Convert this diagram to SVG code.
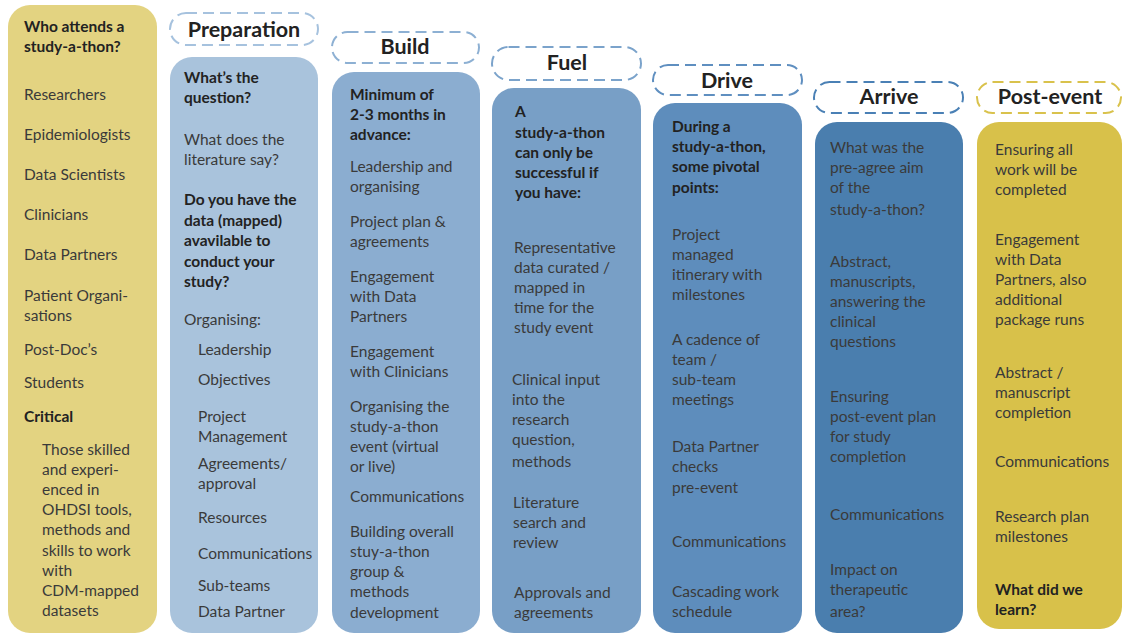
<svg xmlns="http://www.w3.org/2000/svg" width="1122" height="636" viewBox="0 0 1122 636">
<style>
text{font-family:Lato,"Open Sans","Liberation Sans",sans-serif;font-size:15.5px;fill:#3a3a3a}
.b{font-weight:bold;fill:#222}
.h{font-weight:bold;font-size:21.5px;fill:#222;text-anchor:middle}
.pill{fill:#fff;stroke-width:2;stroke-dasharray:11 6}
</style>
<rect width="1122" height="636" fill="#fff"/>
<g id="who">
<rect x="8" y="5" width="149" height="628" rx="22" fill="#E3D381"/>
<text class="b" x="24" y="32">Who attends a</text>
<text class="b" x="24" y="52">study-a-thon?</text>
<text x="24" y="100">Researchers</text>
<text x="24" y="140">Epidemiologists</text>
<text x="24" y="180">Data Scientists</text>
<text x="24" y="220">Clinicians</text>
<text x="24" y="260">Data Partners</text>
<text x="24" y="301">Patient Organi-</text>
<text x="24" y="321">sations</text>
<text x="24" y="355">Post-Doc’s</text>
<text x="24" y="388">Students</text>
<text class="b" x="24" y="422">Critical</text>
<text x="42" y="455">Those skilled</text>
<text x="42" y="475">and experi-</text>
<text x="42" y="495">enced in</text>
<text x="42" y="515">OHDSI tools,</text>
<text x="42" y="535">methods and</text>
<text x="42" y="556">skills to work</text>
<text x="42" y="576">with</text>
<text x="42" y="596">CDM-mapped</text>
<text x="42" y="616">datasets</text>
</g>
<g id="preparation">
<rect class="pill" x="170" y="13" width="148" height="32" rx="16" stroke="#A6C2DE"/>
<text class="h" x="244" y="37">Preparation</text>
<rect x="170" y="57" width="148" height="576" rx="22" fill="#A9C3DC"/>
<text class="b" x="184" y="83">What’s the</text>
<text class="b" x="184" y="103">question?</text>
<text x="184" y="145">What does the</text>
<text x="184" y="165">literature say?</text>
<text class="b" x="184" y="205">Do you have the</text>
<text class="b" x="184" y="226">data (mapped)</text>
<text class="b" x="184" y="246">avavilable to</text>
<text class="b" x="184" y="267">conduct your</text>
<text class="b" x="184" y="287">study?</text>
<text x="184" y="325">Organising:</text>
<text x="198" y="355">Leadership</text>
<text x="198" y="385">Objectives</text>
<text x="198" y="422">Project</text>
<text x="198" y="442">Management</text>
<text x="198" y="469">Agreements/</text>
<text x="198" y="489">approval</text>
<text x="198" y="523">Resources</text>
<text x="198" y="559">Communications</text>
<text x="198" y="591">Sub-teams</text>
<text x="198" y="617">Data Partner</text>
</g>
<g id="build">
<rect class="pill" x="332" y="32" width="147" height="31" rx="15.5" stroke="#8DB0D3"/>
<text class="h" x="405" y="54">Build</text>
<rect x="332" y="72" width="148" height="561" rx="22" fill="#8BADD0"/>
<text class="b" x="350" y="100">Minimum of</text>
<text class="b" x="350" y="120">2-3 months in</text>
<text class="b" x="350" y="140">advance:</text>
<text x="350" y="172">Leadership and</text>
<text x="350" y="192">organising</text>
<text x="350" y="227">Project plan &amp;</text>
<text x="350" y="247">agreements</text>
<text x="350" y="282">Engagement</text>
<text x="350" y="302">with Data</text>
<text x="350" y="322">Partners</text>
<text x="350" y="357">Engagement</text>
<text x="350" y="377">with Clinicians</text>
<text x="350" y="412">Organising the</text>
<text x="350" y="432">study-a-thon</text>
<text x="350" y="452">event (virtual</text>
<text x="350" y="472">or live)</text>
<text x="350" y="502">Communications</text>
<text x="350" y="537">Building overall</text>
<text x="350" y="557">stuy-a-thon</text>
<text x="350" y="577">group &amp;</text>
<text x="350" y="597">methods</text>
<text x="350" y="618">development</text>
</g>
<g id="fuel">
<rect class="pill" x="492" y="47" width="149" height="33" rx="16.5" stroke="#7BA3CB"/>
<text class="h" x="567" y="70">Fuel</text>
<rect x="492" y="88" width="149" height="545" rx="22" fill="#789FC6"/>
<text class="b" x="515" y="117">A</text>
<text class="b" x="515" y="138">study-a-thon</text>
<text class="b" x="515" y="158">can only be</text>
<text class="b" x="515" y="178">successful if</text>
<text class="b" x="515" y="198">you have:</text>
<text x="514" y="253">Representative</text>
<text x="514" y="273">data curated /</text>
<text x="514" y="293">mapped in</text>
<text x="514" y="313">time for the</text>
<text x="514" y="333">study event</text>
<text x="512" y="385">Clinical input</text>
<text x="512" y="405">into the</text>
<text x="512" y="425">research</text>
<text x="512" y="445">question,</text>
<text x="512" y="467">methods</text>
<text x="513" y="508">Literature</text>
<text x="513" y="528">search and</text>
<text x="513" y="548">review</text>
<text x="514" y="598">Approvals and</text>
<text x="514" y="618">agreements</text>
</g>
<g id="drive">
<rect class="pill" x="653" y="65" width="149" height="30" rx="15" stroke="#5F8FC0"/>
<text class="h" x="727" y="88">Drive</text>
<rect x="653" y="103" width="149" height="530" rx="22" fill="#5E8DBC"/>
<text class="b" x="672" y="132">During a</text>
<text class="b" x="672" y="152">study-a-thon,</text>
<text class="b" x="672" y="172">some pivotal</text>
<text class="b" x="672" y="193">points:</text>
<text x="672" y="240">Project</text>
<text x="672" y="260">managed</text>
<text x="672" y="280">itinerary with</text>
<text x="672" y="300">milestones</text>
<text x="672" y="345">A cadence of</text>
<text x="672" y="365">team /</text>
<text x="672" y="385">sub-team</text>
<text x="672" y="405">meetings</text>
<text x="672" y="452">Data Partner</text>
<text x="672" y="472">checks</text>
<text x="672" y="493">pre-event</text>
<text x="672" y="547">Communications</text>
<text x="672" y="597">Cascading work</text>
<text x="672" y="617">schedule</text>
</g>
<g id="arrive">
<rect class="pill" x="814" y="82" width="149" height="31" rx="15.5" stroke="#4A80B5"/>
<text class="h" x="889" y="104">Arrive</text>
<rect x="815" y="122" width="148" height="511" rx="22" fill="#4A7EAE"/>
<text x="830" y="153">What was the</text>
<text x="830" y="173">pre-agree aim</text>
<text x="830" y="193">of the</text>
<text x="830" y="215">study-a-thon?</text>
<text x="830" y="267">Abstract,</text>
<text x="830" y="287">manuscripts,</text>
<text x="830" y="307">answering the</text>
<text x="830" y="327">clinical</text>
<text x="830" y="347">questions</text>
<text x="830" y="402">Ensuring</text>
<text x="830" y="422">post-event plan</text>
<text x="830" y="442">for study</text>
<text x="830" y="462">completion</text>
<text x="830" y="520">Communications</text>
<text x="830" y="575">Impact on</text>
<text x="830" y="595">therapeutic</text>
<text x="830" y="617">area?</text>
</g>
<g id="post-event">
<rect class="pill" x="977" y="82" width="144" height="31" rx="15.5" stroke="#D9C24C"/>
<text class="h" x="1050" y="104">Post-event</text>
<rect x="977" y="122" width="145" height="507" rx="22" fill="#D8C14A"/>
<text x="995" y="155">Ensuring all</text>
<text x="995" y="175">work will be</text>
<text x="995" y="195">completed</text>
<text x="995" y="245">Engagement</text>
<text x="995" y="265">with Data</text>
<text x="995" y="285">Partners, also</text>
<text x="995" y="305">additional</text>
<text x="995" y="325">package runs</text>
<text x="995" y="378">Abstract /</text>
<text x="995" y="398">manuscript</text>
<text x="995" y="418">completion</text>
<text x="995" y="467">Communications</text>
<text x="995" y="522">Research plan</text>
<text x="995" y="542">milestones</text>
<text class="b" x="995" y="595">What did we</text>
<text class="b" x="995" y="615">learn?</text>
</g>
</svg>
